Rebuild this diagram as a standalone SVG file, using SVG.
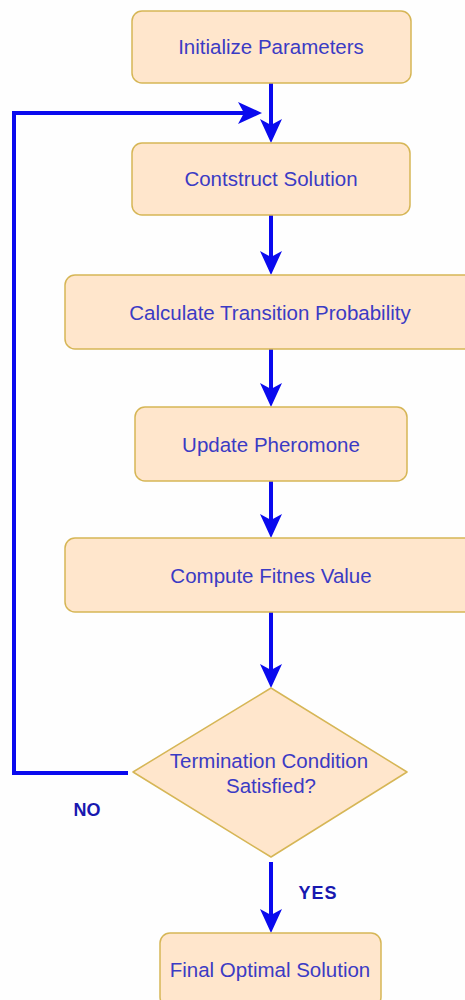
<svg xmlns="http://www.w3.org/2000/svg" width="465" height="1000" viewBox="0 0 465 1000">
<style>
.box{fill:#FFE6CC;stroke:#D6B656;stroke-width:1.5;}
.t{font-family:"Liberation Sans",Arial,sans-serif;font-size:20.5px;fill:#3b3bc4;text-anchor:middle;}
.lbl{font-family:"Liberation Sans",Arial,sans-serif;font-size:18px;font-weight:bold;fill:#1818b0;text-anchor:middle;}
.c{fill:none;stroke:#0a0aee;stroke-width:4;}
</style>
<defs>
<marker id="ah" viewBox="0 0 24 22" refX="6" refY="11" markerWidth="24" markerHeight="22" markerUnits="userSpaceOnUse" orient="auto">
<path d="M0,0 L24,11 L0,22 L6,11 Z" fill="#0a0aee"/>
</marker>
</defs>
<rect width="465" height="1000" fill="#fefefe"/>
<g id="connectors">
<line class="c" x1="271" y1="83" x2="271" y2="125" marker-end="url(#ah)"/>
<path class="c" d="M128,773 H14 V113 H244" marker-end="url(#ah)"/>
<line class="c" x1="271" y1="215" x2="271" y2="257" marker-end="url(#ah)"/>
<line class="c" x1="271" y1="349" x2="271" y2="389" marker-end="url(#ah)"/>
<line class="c" x1="271" y1="481" x2="271" y2="520" marker-end="url(#ah)"/>
<line class="c" x1="271" y1="612" x2="271" y2="670" marker-end="url(#ah)"/>
<line class="c" x1="271" y1="862" x2="271" y2="915" marker-end="url(#ah)"/>
<text class="lbl" x="87" y="816">NO</text>
<text class="lbl" x="318" y="899" letter-spacing="1">YES</text>
</g>
<g id="init"><rect class="box" x="132" y="11" width="279" height="72" rx="10"/><text class="t" x="271" y="54">Initialize Parameters</text></g>
<g id="construct"><rect class="box" x="132" y="143" width="278" height="72" rx="10"/><text class="t" x="271" y="186">Contstruct Solution</text></g>
<g id="transition"><rect class="box" x="65" y="275" width="420" height="74" rx="10"/><text class="t" x="270" y="320">Calculate Transition Probability</text></g>
<g id="pheromone"><rect class="box" x="135" y="407" width="272" height="74" rx="10"/><text class="t" x="271" y="452">Update Pheromone</text></g>
<g id="fitness"><rect class="box" x="65" y="538" width="420" height="74" rx="10"/><text class="t" x="271" y="583">Compute Fitnes Value</text></g>
<g id="decision"><path class="box" stroke-linejoin="round" d="M271,688 L407,772 L271,857 L133,772 Z"/><text class="t" x="269" y="768">Termination Condition</text><text class="t" x="271" y="793">Satisfied?</text></g>
<g id="final"><rect class="box" x="160" y="933" width="221" height="74" rx="10"/><text class="t" x="270" y="977">Final Optimal Solution</text></g>
</svg>
